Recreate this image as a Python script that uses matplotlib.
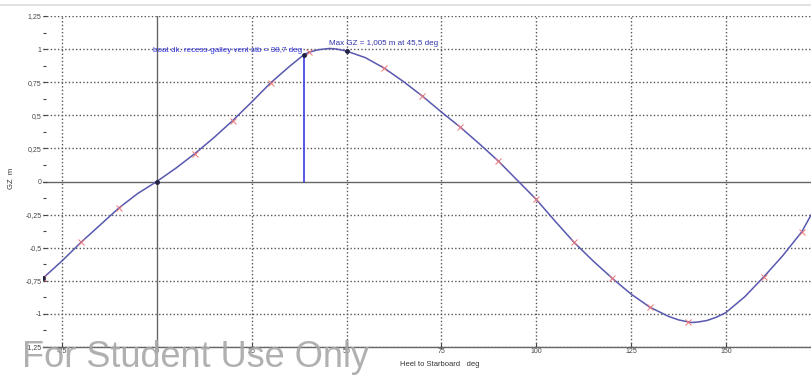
import matplotlib.pyplot as plt
import numpy as np

# GZ curve, heel to starboard (deg) vs righting lever (m)
heel = [-30, -25, -20, -15, -10, -5, 0, 5, 10, 15, 20, 25, 30, 35, 38.7, 40,
        42.5, 45.5, 47.5, 50, 55, 60, 65, 70, 75, 80, 85, 90, 95, 100, 105,
        110, 115, 120, 125, 130, 135, 137.5, 140, 141, 142.5, 145, 147.5, 150,
        155, 160, 165, 170, 172.7]
gz = [-0.73, -0.60, -0.46, -0.33, -0.20, -0.09, 0.0, 0.10, 0.21, 0.33, 0.46, 0.60,
      0.745, 0.87, 0.956, 0.975, 0.995, 1.005, 1.0, 0.985, 0.935, 0.855, 0.755, 0.645,
      0.525, 0.41, 0.285, 0.155, 0.01, -0.135, -0.30, -0.46, -0.60, -0.73, -0.85,
      -0.95, -1.02, -1.045, -1.06, -1.065, -1.062, -1.05, -1.025, -0.99,
      -0.87, -0.72, -0.56, -0.38, -0.24]

flood_angle = 38.7
flood_label = "boat dk. recess-galley vent stb = 38,7 deg"
max_label = "Max GZ = 1,005 m at 45,5 deg"

xticks = [-25, 0, 25, 50, 75, 100, 125, 150]
yticks = [-1.25, -1.0, -0.75, -0.5, -0.25, 0, 0.25, 0.5, 0.75, 1.0, 1.25]
ytick_labels = ["-1,25", "-1", "-0,75", "-0,5", "-0,25", "0", "0,25", "0,5", "0,75", "1", "1,25"]

plt.rcParams['font.family'] = ['Liberation Sans', 'DejaVu Sans']

fig = plt.figure(figsize=(8.12, 3.76), dpi=100)
ax = fig.add_axes([43 / 812, 29 / 376, 1 - 43 / 812, 331 / 376])

heel = np.array(heel)
gz = np.array(gz)

ax.set_xlim(-30, 172.7)
ax.set_ylim(-1.25, 1.25)

# grid and zero axes
for x in xticks:
    if x != 0:
        ax.axvline(x, color='#555555', ls=(0, (1, 1.6)), lw=1.0, zorder=1)
for y in yticks:
    if y != 0:
        ax.axhline(y, color='#555555', ls=(0, (1, 1.6)), lw=1.0, zorder=1)
ax.axhline(0, color='#666666', lw=1.0, zorder=1)
ax.axvline(0, color='#666666', lw=1.0, zorder=1)

# the curve itself
ax.plot(heel, gz, color='#5858b0', lw=1.1, zorder=3)

# sample points every 10 deg
tens = (heel % 10 == 0) & (heel != 0) & (heel != 50) & (heel != 150)
ax.plot(heel[tens], gz[tens], ls='none', marker='x', ms=4, mew=0.7,
        color='#ee7777', zorder=4)
dots = np.isin(heel, [-30, 0, flood_angle, 50])
ax.plot(heel[dots], gz[dots], ls='none', marker='o', ms=2.5,
        color='#222244', zorder=5)

# downflooding angle marker
gz_flood = gz[heel == flood_angle][0]
ax.plot([flood_angle, flood_angle], [0, gz_flood], color='#3a3ae0', lw=1.2, zorder=4)
ax.text(flood_angle - 0.3, gz_flood + 0.03, flood_label, ha='right', va='center',
        fontsize=5.8, color='#3333dd', zorder=6)
ax.text(45.3, 1.045, max_label, ha='left', va='center',
        fontsize=5.8, color='#3333aa', zorder=6)

# axes styling
for side in ['top', 'right', 'left']:
    ax.spines[side].set_visible(False)
ax.spines['bottom'].set_color('#666666')
ax.spines['bottom'].set_linewidth(1.0)

ax.set_xticks(xticks)
ax.set_xticklabels([str(x) for x in xticks])
ax.set_yticks(yticks)
ax.set_yticklabels(ytick_labels)
ax.set_yticks(np.arange(-1.125, 1.25, 0.25), minor=True)
ax.tick_params(axis='both', which='major', labelsize=5, labelcolor='#444444',
               color='#444444', length=3, width=0.8, pad=1, direction='in')
ax.tick_params(axis='y', which='minor', length=2, width=0.8, color='#444444',
               direction='in')

fig.text(12 / 812, 1 - 178 / 376, "GZ  m", rotation=90, ha='center', va='center',
         fontsize=5.5, color='#333333')
fig.text(440 / 812, 1 - 364 / 376, "Heel to Starboard   deg", ha='center', va='center',
         fontsize=5.5, color='#333333')

# light frame line along the top
fig.add_artist(plt.Line2D([0, 1], [1 - 5 / 376, 1 - 5 / 376], color='#dddddd', lw=1.2))

# watermark
fig.text(22 / 812, 1 / 376, "For Student Use Only", ha='left', va='bottom',
         fontsize=26, color='#a8a8a8', alpha=0.9, zorder=10)

fig.savefig("out.png", dpi=100)
